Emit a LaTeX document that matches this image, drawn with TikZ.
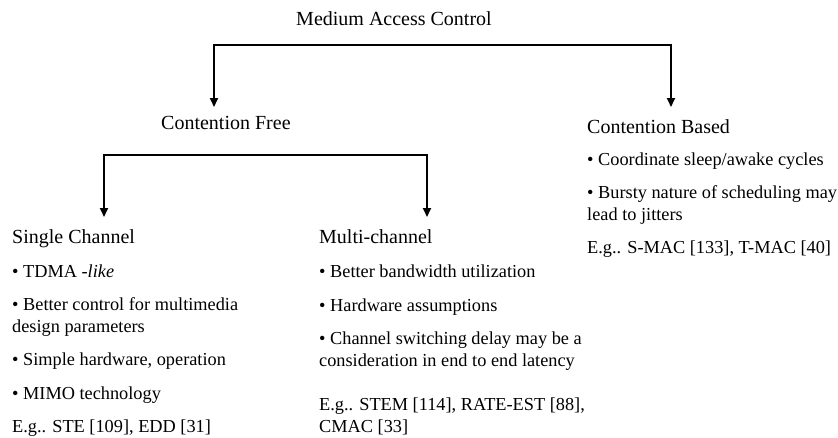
\documentclass[tikz,border=0pt]{standalone}
\usepackage{fontspec}
\setmainfont{Liberation Serif}
\usetikzlibrary{arrows.meta}
\tikzset{
  hd/.style={inner sep=0pt, anchor=base west, font=\fontsize{20}{24}\selectfont},
  bd/.style={inner sep=0pt, anchor=base west, font=\fontsize{18.3}{22}\selectfont},
  conn/.style={line width=1.8pt, {Triangle[width=8pt,length=9pt]}-{Triangle[width=8pt,length=9pt]}}
}
\begin{document}
\begin{tikzpicture}[x=1pt,y=-1pt]
\useasboundingbox (0,0) rectangle (838,437);
% root
\node[hd, anchor=base] (mac) at (394,25) {Medium Access Control};
% level 1
\node[hd] (cf) at (161,129) {Contention Free};
\node[hd] (cb) at (587,133) {Contention Based};
\coordinate (cfTip) at (214,107);
\coordinate (cbTip) at (671,107);
\coordinate (top1) at (442,45);
\draw[conn] (cfTip) |- (top1) -| (cbTip);
% level 2
\node[hd] (sc) at (12,243) {Single Channel};
\node[hd] (mc) at (319,243) {Multi-channel};
\coordinate (scTip) at (104,217);
\coordinate (mcTip) at (427,217);
\coordinate (top2) at (265,155);
\draw[conn] (scTip) |- (top2) -| (mcTip);
% single channel
\node[bd] (s1) at (12,277) {• TDMA \textit{-like}};
\node[bd] (s2) at (12,310) {• Better control for multimedia};
\node[bd] (s3) at (12,332) {design parameters};
\node[bd] (s4) at (12,365) {• Simple hardware, operation};
\node[bd] (s5) at (12,399) {• MIMO technology};
\node[bd] (s6) at (12,432) {E.g.. STE [109], EDD [31]};
% multi-channel
\node[bd] (m1) at (319,277) {• Better bandwidth utilization};
\node[bd] (m2) at (319,311) {• Hardware assumptions};
\node[bd] (m3) at (319,344) {• Channel switching delay may be a};
\node[bd] (m4) at (319,366) {consideration in end to end latency};
\node[bd] (m5) at (319,410) {E.g.. STEM [114], RATE-EST [88],};
\node[bd] (m6) at (319,432) {CMAC [33]};
% contention based
\node[bd] (c1) at (587,165) {• Coordinate sleep/awake cycles};
\node[bd] (c2) at (587,198) {• Bursty nature of scheduling may};
\node[bd] (c3) at (587,220) {lead to jitters};
\node[bd] (c4) at (587,253) {E.g.. S-MAC [133], T-MAC [40]};
\end{tikzpicture}
\end{document}
